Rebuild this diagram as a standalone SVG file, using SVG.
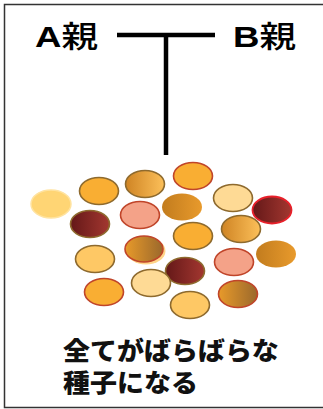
<svg xmlns="http://www.w3.org/2000/svg" width="323" height="409" viewBox="0 0 323 409">
  <style>
    .lbl { font-family: "Liberation Sans", "Noto Sans CJK JP", sans-serif; font-weight: bold; fill: #000; }
    .kanji { font-family: "Noto Sans CJK JP", sans-serif; font-weight: 500; }
    .cap { font-family: "Noto Sans CJK JP", sans-serif; font-weight: 900; fill: #111; }
    .line { stroke: #000; stroke-width: 4.5; fill: none; }
    .sb { stroke: #8E6A2E; stroke-width: 1.6; }
    .sr { stroke: #C0452A; stroke-width: 1.6; }
  </style>
  <defs>
    <linearGradient id="gOrangeUp" x1="0" y1="0" x2="1" y2="0">
      <stop offset="0" stop-color="#CF8424"/>
      <stop offset="1" stop-color="#FCC05A"/>
    </linearGradient>
    <linearGradient id="gOrangeFlat" x1="0" y1="0" x2="1" y2="0">
      <stop offset="0" stop-color="#C27C1E"/>
      <stop offset="1" stop-color="#E89A2C"/>
    </linearGradient>
    <linearGradient id="gOrangeDown" x1="0" y1="0" x2="1" y2="0">
      <stop offset="0" stop-color="#E89A2A"/>
      <stop offset="1" stop-color="#9A682C"/>
    </linearGradient>
    <linearGradient id="gRed" x1="0" y1="0" x2="1" y2="0">
      <stop offset="0" stop-color="#641818"/>
      <stop offset="1" stop-color="#A33730"/>
    </linearGradient>
  </defs>

  <!-- frame -->
  <rect x="4.5" y="4.5" width="330" height="403" fill="#fff" stroke="#333" stroke-width="1.5"/>

  <g id="parentA">
    <text class="lbl" transform="translate(35,47) scale(1.22,1)" font-size="30">A<tspan class="kanji">親</tspan></text>
  </g>
  <g id="parentB">
    <text class="lbl" transform="translate(233,47) scale(1.22,1)" font-size="30">B<tspan class="kanji">親</tspan></text>
  </g>

  <g id="connectors">
    <line class="line" x1="117" y1="35" x2="215" y2="35"/>
    <line class="line" x1="166" y1="35" x2="166" y2="155"/>
  </g>

  <g id="seeds">
    <ellipse cx="51" cy="204" rx="20" ry="14" fill="#FFD574" stroke="#FFE3A0" stroke-width="1.5"/>
    <ellipse class="sb" cx="99" cy="191" rx="19.5" ry="13.5" fill="#F9AE33"/>
    <ellipse class="sb" cx="145" cy="184" rx="19.5" ry="13.5" fill="url(#gOrangeUp)"/>
    <ellipse class="sr" cx="193" cy="176" rx="19.5" ry="13.5" fill="#F9AE33"/>
    <ellipse class="sb" cx="233" cy="198" rx="19.5" ry="13.5" fill="#FEDA95"/>
    <ellipse cx="272" cy="210" rx="19.5" ry="13.5" fill="url(#gRed)" stroke="#E8202A" stroke-width="1.8"/>
    <ellipse class="sb" cx="90" cy="224" rx="19.5" ry="13.5" fill="url(#gRed)"/>
    <ellipse class="sr" cx="140" cy="215" rx="19.5" ry="13.5" fill="#F4A288"/>
    <ellipse cx="182" cy="207" rx="20" ry="13.5" fill="url(#gOrangeFlat)"/>
    <ellipse class="sb" cx="241" cy="229" rx="19.5" ry="13.5" fill="url(#gOrangeUp)"/>
    <ellipse class="sb" cx="193" cy="236" rx="19.5" ry="13.5" fill="#F9AE33"/>
    <ellipse class="sb" cx="95" cy="259" rx="19.5" ry="13.5" fill="#FEC865"/>
    <ellipse cx="146" cy="251" rx="19.5" ry="13.5" fill="#FFD58A"/>
    <ellipse class="sr" cx="144" cy="249" rx="19" ry="13" fill="url(#gOrangeDown)"/>
    <ellipse cx="276" cy="254" rx="20" ry="13.5" fill="url(#gOrangeFlat)"/>
    <ellipse class="sb" cx="185" cy="271" rx="19.5" ry="13.5" fill="url(#gRed)"/>
    <ellipse class="sr" cx="234" cy="262" rx="19.5" ry="13.5" fill="#F4A288"/>
    <ellipse class="sb" cx="151" cy="283" rx="19.5" ry="13.5" fill="#FEDA95"/>
    <ellipse class="sr" cx="104" cy="292" rx="19.5" ry="13.5" fill="#F9AE33"/>
    <ellipse class="sr" cx="238" cy="294" rx="19.5" ry="13.5" fill="url(#gOrangeDown)"/>
    <ellipse class="sb" cx="190" cy="305" rx="19.5" ry="13.5" fill="#FEC865"/>
  </g>

  <g id="caption">
    <text class="cap" transform="translate(63,360) scale(1.08,1)" font-size="25">全てがばらばらな</text>
    <text class="cap" transform="translate(63,392) scale(1.08,1)" font-size="25">種子になる</text>
  </g>
</svg>
